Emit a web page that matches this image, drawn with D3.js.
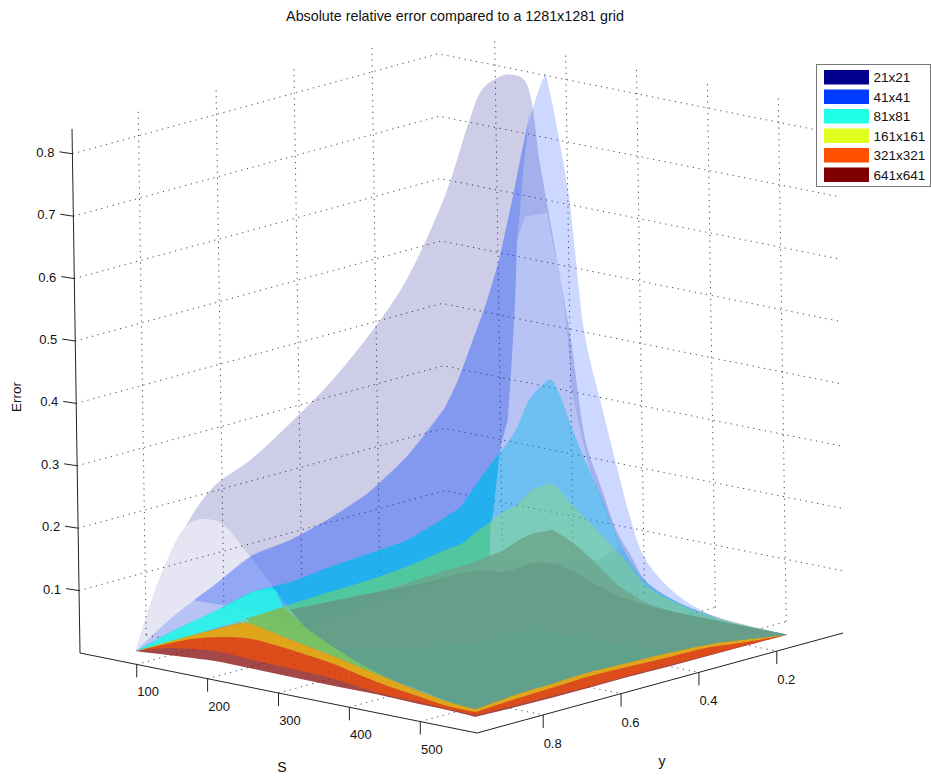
<!DOCTYPE html>
<html><head><meta charset="utf-8">
<script src="https://cdnjs.cloudflare.com/ajax/libs/d3/7.8.5/d3.min.js"></script>
<style>html,body{margin:0;padding:0;background:#fff}svg{display:block}text{font-family:"Liberation Sans",Arial,sans-serif;fill:#111}</style>
</head><body><svg id="c" width="931" height="777"></svg>
<script>
// ---------- data ----------
const title = "Absolute relative error compared to a 1281x1281 grid";
const seriesNames = ["21x21","41x41","81x81","161x161","321x321","641x641"];
const sTicks = [100,200,300,400,500];
const vTicks = [0.2,0.4,0.6,0.8];
const zTicks = [0.1,0.2,0.3,0.4,0.5,0.6,0.7,0.8];
// grid positions of the sampled surface edges
const vGrid = [0.9,0.8,0.7,0.6,0.5,0.4,0.3,0.2,0.1];
const backS = [60,80,100,120,140,160,180,200,210,220,240,260,280,300,320,340,380,440,540];
const frontS = [60,100,140,180,220,260,300,340,380,420,460,500,540];
// error along S=60 (vGrid)
const left21 = [0,.145,.226,.255,.295,.34,.397,.468,.58];
const left41 = [0,.04,.07,.102,.11,.127,.151,.192,.254];
const left81 = [0,.017,.029,.044,.043,.05,.054,.059,.079];
const left161 = [0,.001,0,.004,.0075,.01,.012,.017,.027];
// error along v=0.1 (backS)
const back21 = [.58,.646,.72,.778,.80,.811,.806,.678,.61,.543,.404,.24,.176,.113,.077,.042,.019,.006,0];
const back41 = [.254,.304,.368,.432,.509,.61,.718,.795,.825,.771,.636,.415,.317,.225,.138,.077,.032,.005,0];
const back81 = [.079,.099,.136,.171,.204,.241,.294,.324,.334,.319,.262,.208,.161,.105,.066,.04,.019,.004,0];
const back161 = [.027,.04,.062,.083,.105,.121,.148,.162,.166,.16,.1375,.118,.099,.08,.058,.034,.016,.004,0];
const back321 = [.016,.03,.044,.063,.079,.088,.092,.088,.077,.062,.044,.026,.015,.006,0,0,0];   // from S=100
const back641 = [.006,.009,.02,.0325,.037,.0377,.037,.032,.022,.015,.007,.005,.001,0,0,0];      // from S=120
// ridge of the two finest surfaces for v=.5 ... .1
const crestV = [.5,.4,.3,.2,.1];
const crest321 = [.008,.004,0,.003,.005];  // at S=80
const crest641 = [.0167,.0125,.008,.004,.0014]; // at S=100
// error along v=0.9 (frontS)
const front21 = [0,.139,.224,.235,.194,.1425,.094,.071,.052,.038,.03,.021,.0175];
const front161 = [0,.0232,.0444,.0649,.082,.0736,.0651,.0566,.0465,.0373,.028,.0204,.0175];
const front321 = [0,.02,.0381,.0505,.0572,.0551,.0498,.0438,.0337,.0253,.0192,.0131,.0126];
const front641 = [0,.0141,.0219,.0264,.0244,.023,.0218,.0197,.0144,.0109,.0104,.0083,.0078];
const frontBase = [0,.004,.0075,.0104,.0098,.0095,.009,.0085,.0087,.0085,.007,.0067,.0046];
// error along S=540 (vGrid)
const right161 = [.0175,.023,.025,.027,.025,.023,.019,.0101,0];
const right321 = [.0126,.016,.018,.02,.018,.016,.014,.006,0];
const right641 = [.0078,.006,.005,.004,.004,.003,.002,.001,0];
const rightBase = [.005,.003,.002,.002,.002,.001,.001,.0005,0];
// fold of the 21x21 sheet (v=.1)
const foldS = [178,209,217,226,235,240,248,264,285,305,276,120,122,126,132,137,149,156,162,166];
const foldZ = [.587,.6,.55,.508,.414,.328,.277,.2,.141,.087,.06,.016,.077,.1,.155,.204,.255,.352,.45,.547];
// second layer of the 41x41 sheet
const fold41S = [60,60,60,60,60,60,60,60,80,100,120,140,160,180,187,176,171,166,162,156,149,137,132,126,122,120,300,200];
const fold41V = [.75,.7,.6,.5,.4,.3,.2,.1,.1,.1,.1,.1,.1,.1,.1,.1,.1,.1,.1,.1,.1,.1,.1,.1,.1,.1,.9,.9];
const fold41Z = [.056,.07,.102,.11,.127,.151,.192,.254,.304,.368,.432,.509,.61,.718,.76,.66,.596,.547,.45,.352,.255,.204,.155,.1,.077,.016,.094,.103];
// second layer of the 81x81 sheet
const fold81S = [60,60,60,60,60,60,80,100,120,140,137,132,126,122,120,300,260];
const fold81V = [.6,.5,.4,.3,.2,.1,.1,.1,.1,.1,.1,.1,.1,.1,.1,.9,.9];
const fold81Z = [.044,.043,.05,.054,.059,.079,.099,.136,.171,.204,.204,.155,.1,.077,.016,.094,.1425];
const lip81S = [60,60,60,60,60,260,270,220,140];
const lip81V = [.9,.8,.7,.6,.55,.9,.9,.9,.9];
const lip81Z = [0,.017,.029,.044,.043,.1425,.119,.09,.044];
// second layer of the 161x161 sheet
const fold161S = [60,60,60,60,60,60,80,100,120,126,122,120,300,270];
const fold161V = [.6,.5,.4,.3,.2,.1,.1,.1,.1,.1,.1,.1,.9,.9];
const fold161Z = [.004,.0075,.01,.012,.017,.027,.04,.062,.083,.088,.077,.016,.094,.119];
// inner crest of the 641x641 sheet at S=400
const innerV = [.4,.5,.6,.7,.8];
const innerZ = [.016,.044,.045,.054,.066];
// lip of the 161x161 sheet, v=.9
const lip161S = [220,270,300,340,380,420,460];
const lip161Z = [.09,.119,.094,.071,.052,.038,.03];
const lip161LowS = [420,380,340,300,260,220];
const lip161LowZ = [.0373,.0465,.0566,.0651,.0736,.082];

// ---------- projection ----------
const S_DOM=[20,580], V_DOM=[.97,.03], Z_DOM=[0,1];
const sx=d3.scaleLinear(S_DOM,[0,397]), sy=d3.scaleLinear(S_DOM,[0,80]);
const vx=d3.scaleLinear(V_DOM,[0,366]), vy=d3.scaleLinear(V_DOM,[0,-100]);
const zx=d3.scaleLinear(Z_DOM,[0,-9.5]), zy=d3.scaleLinear(Z_DOM,[0,-624]);
const O=[80,653];
const P=(S,v,z)=>[O[0]+sx(S)+vx(v)+zx(z), O[1]+sy(S)+vy(v)+zy(z)];
const line=d3.line();
const curve=d3.line().curve(d3.curveCatmullRom.alpha(.5));
const svg=d3.select("#c");
// a closed outline made of smooth runs that meet at sharp corners
const rings=(...runs)=>runs.map((r,i)=>{const d=curve(r.map(p=>P(...p)));return i?d.replace(/^M/,"L"):d;}).join("")+"Z";
const poly=pts=>line(pts.map(p=>P(...p)))+"Z";

// edges
const leftE=(zs)=>vGrid.map((v,i)=>[60,v,zs[i]]);
const backE=(zs,from=0)=>backS.slice(from).map((S,i)=>[S,.1,zs[i]]);
const rightE=(zs)=>vGrid.map((v,i)=>[540,v,zs[i]]);
const frontE=(zs)=>frontS.map((S,i)=>[S,.9,zs[i]]);
const rev=a=>a.slice().reverse();
const triples=(S,V,Z)=>S.map((s,i)=>[s,V[i],Z[i]]);
const sheet=(l,b,r,f,split)=>{
  const up=[...leftE(l),...backE(b).slice(1)];
  const runs=split?[up.slice(0,split+1),up.slice(split)]:[up];
  return rings(...runs,rev(rightE(r)),rev(frontE(f)));
};

// ---------- grid ----------
const zTop=.84;
const g=svg.append("g").attr("fill","none").attr("stroke","#1a1a1a").attr("stroke-width",1).attr("stroke-dasharray","1.2 4.6").attr("stroke-opacity",.8);
const seg=(pts)=>g.append("path").attr("d",line(pts.map(p=>P(...p))));
zTicks.forEach(z=>seg([[20,.97,z],[20,.03,z],[580,.03,z]]));
vTicks.forEach(v=>{seg([[20,v,0],[20,v,zTop]]);seg([[20,v,0],[580,v,0]]);});
sTicks.forEach(S=>{seg([[S,.03,0],[S,.03,zTop]]);seg([[S,.97,0],[S,.03,0]]);});

// ---------- surfaces ----------
const surf=svg.append("g");
const draw=(d,fill,op,rule)=>surf.append("path").attr("d",d).attr("fill",fill).attr("fill-opacity",op).attr("fill-rule",rule||"nonzero");
const band=(f1,r1,f0,r0)=>rings(frontE(f1),rightE(r1),rev(rightE(r0)),rev(frontE(f0)));
// front lips
draw(band(front161,right161,frontBase,rightBase),"#800000",.72);
draw(band(front161,right161,front641,right641),"#ff5000",.62);
draw(band(front161,right161,front321,right321),"#e1ff1e",.5);
// 21x21
draw(sheet(left21,back21,right161,front161),"#00008c",.1);
draw(sheet(left21,back21,right161,front21)+poly(triples(foldS,foldS.map(()=>.1),foldZ)),"#00008c",.1,"evenodd");
// 41x41
draw(sheet(left41,back41,right161,front161,16),"#003cff",.2);
draw(poly(triples(fold41S,fold41V,fold41Z)),"#003cff",.2);
// 81x81
draw(sheet(left81,back81,right161,front161),"#00b9ee",.4);
draw(poly(triples(fold81S,fold81V,fold81Z)),"#00b9ee",.55);
draw(poly(triples(lip81S,lip81V,lip81Z)),"#1effe6",.75);
// 161x161
draw(sheet(left161,back161,right161,front161),"#a0f01e",.27);
draw(poly(triples(fold161S,fold161V,fold161Z)),"#a0f01e",.14);
draw(poly([...lip161S.map((S,i)=>[S,.9,lip161Z[i]]),...lip161LowS.map((S,i)=>[S,.9,lip161LowZ[i]])]),"#78bf50",.8);
// 321x321 and 641x641
const nTail=frontE(front21).slice(6);
const joinPt=[280,.9,.117];
const top321=[joinPt,...crestV.map((v,i)=>[80,v,crest321[i]]),...backE(back321,2)];
const top641=[joinPt,...crestV.map((v,i)=>[100,v,crest641[i]]),...backE(back641,3)];
draw(rings(top321,rev(rightE(right161)),rev(nTail)),"#6ea58c",.82);
draw(rings(top641,rev(rightE(right161)),rev(nTail)),"#5f9682",.6);
draw(rings(frontE(front21).slice(7),rightE(right161).slice(0,6),innerV.map((v,i)=>[400,v,innerZ[i]])),"#55aa96",.25);

// ---------- axes ----------
const ax=svg.append("g").attr("fill","none").attr("stroke","#222").attr("stroke-width",1);
const axLine=pts=>ax.append("path").attr("d",line(pts));
axLine([P(20,.97,zTop),P(20,.97,0),P(580,.97,0),P(580,.03,0)]);
const lab=svg.append("g").attr("font-size",13).attr("text-anchor","middle");
sTicks.forEach(S=>{const [x,y]=P(S,.97,0);axLine([[x,y],[x,y+13]]);lab.append("text").attr("x",x+11.5).attr("y",y+32).text(S);});
vTicks.forEach(v=>{const [x,y]=P(580,v,0);axLine([[x,y],[x,y+13]]);lab.append("text").attr("x",x+9.5).attr("y",y+33).text(v.toFixed(1));});
zTicks.forEach(z=>{const [x,y]=P(20,.97,z);axLine([[x,y],[x-13,y-2]]);lab.append("text").attr("x",x-27).attr("y",y+3).text(z.toFixed(1));});
svg.append("text").attr("x",455).attr("y",21).attr("text-anchor","middle").attr("font-size",14.3).text(title);
svg.append("text").attr("x",282).attr("y",772).attr("text-anchor","middle").attr("font-size",14).text("S");
svg.append("text").attr("x",662).attr("y",766).attr("text-anchor","middle").attr("font-size",14).text("y");
svg.append("text").attr("transform","translate(21,397) rotate(-90)").attr("text-anchor","middle").attr("font-size",13.5).text("Error");

// ---------- legend ----------
const legendColors=["#00008c","#003cff","#1effe6","#e1ff1e","#ff5000","#800000"];
const ly=d3.scaleBand(seriesNames,[67.5,184.5]);
const leg=svg.append("g");
leg.append("rect").attr("x",816.5).attr("y",64.5).attr("width",114).attr("height",122).attr("fill","#fff").attr("stroke","#777");
seriesNames.forEach((n,i)=>{
  leg.append("rect").attr("x",824).attr("y",ly(n)+2.5).attr("width",45).attr("height",14.5).attr("fill",legendColors[i]);
  leg.append("text").attr("x",873.5).attr("y",ly(n)+14.5).attr("font-size",13.5).text(n);
});
</script></body></html>
